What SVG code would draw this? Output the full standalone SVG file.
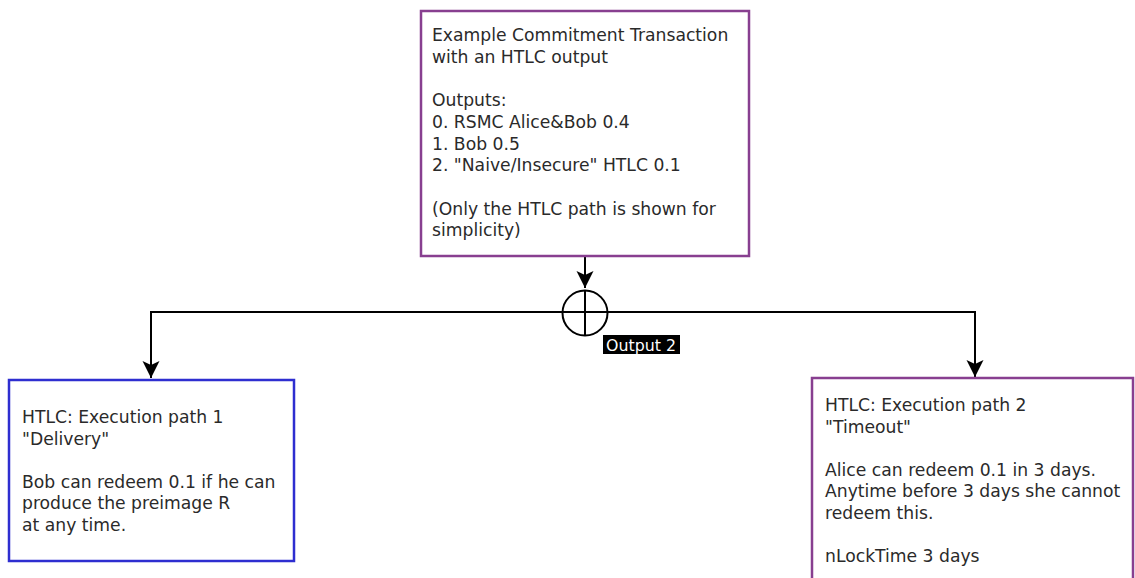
<svg xmlns="http://www.w3.org/2000/svg" width="1135" height="578" viewBox="0 0 1135 578">
<style>
.box{fill:#fff;stroke-width:2.5}
.purple{stroke:#883f90}
.blue{stroke:#2e2ed0}
.t{font-family:"DejaVu Sans",sans-serif;font-size:17.2px;fill:#2a2a2a}
.conn{fill:none;stroke:#000;stroke-width:2}
.lbl{font-family:"DejaVu Sans",sans-serif;font-size:15.8px;fill:#fff}
</style>
<defs>
<marker id="arr" markerUnits="userSpaceOnUse" markerWidth="20" markerHeight="20" refX="17" refY="8.5" orient="auto">
<path d="M0,0 L17,8.5 L0,17 L4,8.5 Z" fill="#000"/>
</marker>
</defs>
<rect width="1135" height="578" fill="#fff"/>
<g id="connectors">
<path class="conn" d="M585,257 V288" marker-end="url(#arr)"/>
<path class="conn" d="M585,312 H151 V378" marker-end="url(#arr)"/>
<path class="conn" d="M585,312 H975 V377" marker-end="url(#arr)"/>
<circle cx="585" cy="313" r="22.5" fill="none" stroke="#000" stroke-width="2"/>
<line x1="585" y1="290" x2="585" y2="336" stroke="#000" stroke-width="2"/>
<rect x="603" y="335" width="77" height="19" fill="#000"/>
<text class="lbl" x="606" y="351">Output 2</text>
</g>
<g id="node-commitment">
<rect class="box purple" x="421" y="11" width="328" height="245"/>
<text class="t" x="432" y="41">Example Commitment Transaction</text>
<text class="t" x="432" y="62.7">with an HTLC output</text>
<text class="t" x="432" y="106.1">Outputs:</text>
<text class="t" x="432" y="127.8">0. RSMC Alice&amp;Bob 0.4</text>
<text class="t" x="432" y="149.5">1. Bob 0.5</text>
<text class="t" x="432" y="171.2">2. "Naive/Insecure" HTLC 0.1</text>
<text class="t" x="432" y="214.6">(Only the HTLC path is shown for</text>
<text class="t" x="432" y="236.3">simplicity)</text>
</g>
<g id="node-delivery">
<rect class="box blue" x="9" y="380" width="285" height="181"/>
<text class="t" x="22" y="423">HTLC: Execution path 1</text>
<text class="t" x="22" y="444.5">"Delivery"</text>
<text class="t" x="22" y="487.5">Bob can redeem 0.1 if he can</text>
<text class="t" x="22" y="509">produce the preimage R</text>
<text class="t" x="22" y="530.5">at any time.</text>
</g>
<g id="node-timeout">
<rect class="box purple" x="812" y="378" width="321" height="215"/>
<text class="t" x="825" y="411">HTLC: Execution path 2</text>
<text class="t" x="825" y="432.5">"Timeout"</text>
<text class="t" x="825" y="475.5">Alice can redeem 0.1 in 3 days.</text>
<text class="t" x="825" y="497">Anytime before 3 days she cannot</text>
<text class="t" x="825" y="518.5">redeem this.</text>
<text class="t" x="825" y="561.5">nLockTime 3 days</text>
</g>
</svg>
